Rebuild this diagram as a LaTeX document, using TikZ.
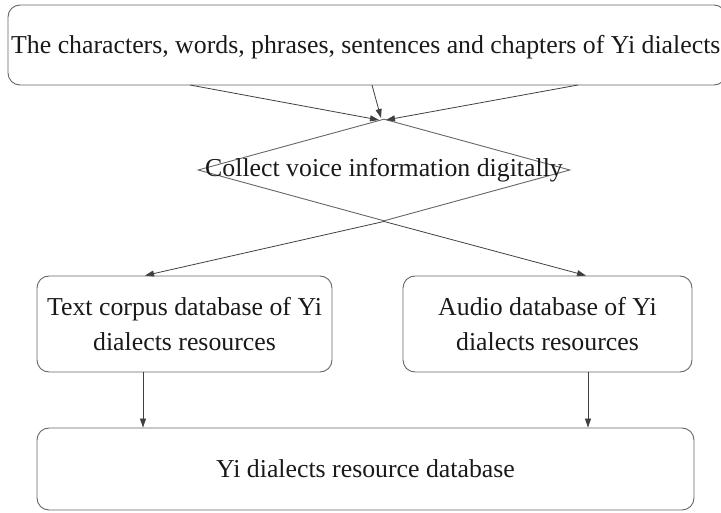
\documentclass[tikz,border=0pt]{standalone}
\usepackage{fontspec}
\setmainfont{Liberation Serif}
\usetikzlibrary{shapes.geometric,arrows.meta}
\begin{document}
\begin{tikzpicture}[x=1pt,y=-1pt,
  txt/.style={font=\fontsize{25.8}{35}\selectfont, text=black!90},
  box/.style={draw=black!60, line width=0.9pt, rounded corners=12pt, txt, align=center, inner sep=0pt},
  arr/.style={draw=black!75, line width=0.8pt, -{Triangle[length=9pt,width=6pt]}}]
\useasboundingbox (0,0) rectangle (721,513);
\node[box, minimum width=718pt, minimum height=80pt] (top) at (367,45) {};
\node[txt, inner sep=0pt, anchor=west] (toptext) at (11,47) {The characters, words, phrases, sentences and chapters of Yi dialects};
\node[diamond, draw=black!60, line width=0.9pt, minimum width=372pt, minimum height=102pt, inner sep=0pt] (d) at (384,170) {};
\node[txt, inner sep=0pt] (dtext) at (384,170) {Collect voice information digitally};
\node[box, minimum width=295pt, minimum height=96pt] (l) at (184.5,324) {Text corpus database of Yi\\dialects resources};
\node[box, minimum width=289pt, minimum height=96pt] (r) at (547.5,324) {Audio database of Yi\\dialects resources};
\node[box, minimum width=657pt, minimum height=82pt] (b) at (365.5,469) {Yi dialects resource database};
\coordinate (t1) at (190,85);
\coordinate (t2) at (372,85);
\coordinate (t3) at (578,85);
\coordinate (e1) at (379,120);
\coordinate (e2) at (381,118);
\coordinate (e3) at (386,120);
\draw[arr] (t1) -- (e1);
\draw[arr] (t2) -- (e2);
\draw[arr] (t3) -- (e3);
\draw[arr] (d.south) -- (l.north -| 145,0);
\draw[arr] (d.south) -- (r.north -| 586,0);
\draw[arr] (l.south -| 143,0) -- (b.north -| 143,0);
\draw[arr] (r.south -| 588,0) -- (b.north -| 588,0);
\end{tikzpicture}
\end{document}
